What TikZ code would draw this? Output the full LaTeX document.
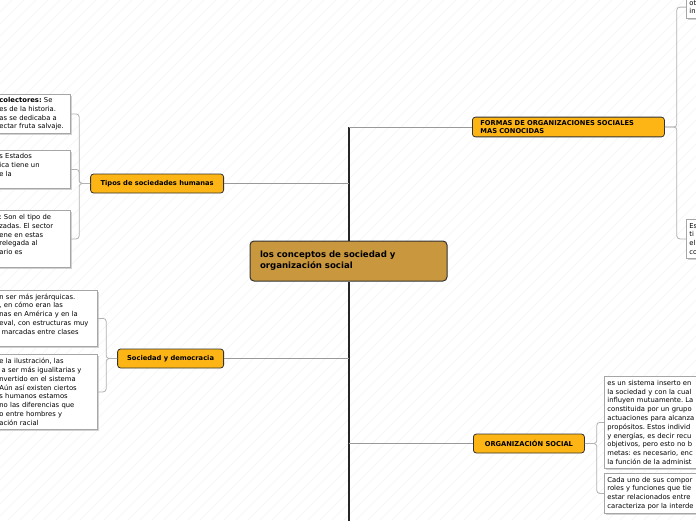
\documentclass[tikz,border=0pt]{standalone}
\usepackage{fontspec}
\setmainfont{DejaVu Sans}
\usetikzlibrary{shadows, positioning}
\definecolor{maincol}{HTML}{C9973D}
\definecolor{branchcol}{HTML}{FDB515}
\definecolor{edgecol}{HTML}{333333}
\tikzstyle{central}   = [draw=edgecol, line width=1pt, fill=maincol, rounded corners=4pt, minimum width=197pt, minimum height=40pt, text width=177pt, align=left, inner xsep=10pt, font=\fontsize{8.6}{11.2}\selectfont\bfseries]
\tikzstyle{branch}    = [draw=edgecol, line width=0.8pt, fill=branchcol, rounded corners=3pt, minimum height=19pt, inner xsep=6pt, font=\fontsize{6.7}{8}\selectfont\bfseries]
\tikzstyle{leaf}      = [draw=gray!70, line width=0.8pt, fill=white, align=left, inner xsep=3pt, inner ysep=2.5pt, font=\fontsize{6.8}{8.8}\selectfont, drop shadow={shadow xshift=1.5pt, shadow yshift=-1.5pt, fill=gray!35, opacity=1}]
\tikzstyle{trunk}     = [line width=2pt, black!85]
\tikzstyle{branchline} = [line width=0.8pt, gray!80]
\tikzstyle{leafline}  = [line width=0.8pt, gray!60, rounded corners=3pt]
\tikzstyle{hatch}     = [line width=0.4pt, gray!9]

\begin{document}
\frenchspacing
\begin{tikzpicture}[x=1pt,y=-1pt]

\useasboundingbox (0,0) rectangle (696,520);
\clip (0,0) rectangle (696,520);
\fill[white] (0,0) rectangle (696,520);
\foreach \k in {-520,-508,...,696}
  \draw[hatch] (\k,520) -- ++(520,-520);

\node[central] (main) at (348.5,261) {los conceptos de sociedad y\\organización social};

\node[branch, minimum width=192pt, text width=176pt, align=left, anchor=west] (formas) at (472,127) {FORMAS DE ORGANIZACIONES SOCIALES\\MAS CONOCIDAS};
\node[branch, minimum width=133pt, anchor=east] (tipos) at (224,183.5) {Tipos de sociedades humanas};
\node[branch, minimum width=106pt, anchor=east] (democ) at (224,358.5) {Sociedad y democracia};
\node[branch, minimum width=111pt, anchor=west] (orgsoc) at (473,443.5) {ORGANIZACIÓN SOCIAL};

\coordinate (jtop) at (348.5,127);
\coordinate (jbot) at (348.5,522);

% trunk
\draw[trunk] (main.north) -- (jtop);
\draw[trunk] (main.south) -- (jbot);

% branches
\draw[branchline] (jtop) -- (formas.west);
\draw[branchline] (tipos.east) -- (tipos.east -| main.north);
\draw[branchline] (democ.east) -- (democ.east -| main.north);
\draw[branchline] (orgsoc.west -| main.south) -- (orgsoc.west);

% tipos de sociedades
\node[leaf, text width=68pt, minimum height=39pt, anchor=north west] (tipA) at (-4,94) {\textbf{colectores:} Se\\es de la historia.\\as se dedicaba a\\ectar fruta salvaje.};
\node[leaf, text width=68pt, minimum height=38pt, anchor=north west] (tipB) at (-4,150) {s Estados\\ica tiene un\\e la\\\mbox{}};
\node[leaf, text width=68pt, minimum height=57pt, anchor=north west] (tipC) at (-4,210) {: Son el tipo de\\zadas. El sector\\ene en estas\\relegada al\\ario es\\\mbox{}};

\draw[leafline] (tipos.west) -- ++(-11,0) |- (tipA.east);
\draw[leafline] (tipos.west) -- ++(-11,0) |- (tipB.east);
\draw[leafline] (tipos.west) -- ++(-11,0) |- (tipC.east);

% sociedad y democracia
\node[leaf, text width=95pt, minimum height=56pt, anchor=north west] (demA) at (-4,290) {n ser más jerárquicas.\\, en cómo eran las\\nas en América y en la\\eval, con estructuras muy\\\ marcadas entre clases\\\mbox{}};
\node[leaf, text width=95pt, minimum height=75pt, anchor=north west] (demB) at (-4,354) {e la ilustración, las\\\ a ser más igualitarias y\\nvertido en el sistema\\Aún así existen ciertos\\s humanos estamos\\no las diferencias que\\o entre hombres y\\ación racial};

\draw[leafline] (democ.west) -- ++(-11,0) |- (demA.east);
\draw[leafline] (democ.west) -- ++(-11,0) |- (demB.east);

% organizacion social
\node[leaf, text width=110pt, minimum height=92pt, anchor=north west] (orgA) at (604,376) {es un sistema inserto en\\la sociedad y con la cual\\influyen mutuamente. La\\constituida por un grupo\\actuaciones para alcanza\\propósitos. Estos individ\\y energías, es decir recu\\objetivos, pero esto no b\\metas: es necesario, enc\\la función de la administ};
\node[leaf, text width=110pt, minimum height=40pt, anchor=north west] (orgB) at (604,473) {Cada uno de sus compor\\roles y funciones que tie\\estar relacionados entre\\caracteriza por la interde};

\draw[leafline] (orgsoc.east) -- ++(12,0) |- (orgA.west);
\draw[leafline] (orgsoc.east) -- ++(12,0) |- (orgB.west);

% formas de organizaciones
\node[leaf, text width=40pt, minimum height=23pt, anchor=south west] (forA) at (686,19) {ot\\in};
\node[leaf, text width=40pt, minimum height=39pt, anchor=north west] (forB) at (686,219) {Es\\ti\\el\\co};

\draw[leafline] (formas.east) -- ++(12,0) |- (forA.west);
\draw[leafline] (formas.east) -- ++(12,0) |- (forB.west);

\end{tikzpicture}
\end{document}
